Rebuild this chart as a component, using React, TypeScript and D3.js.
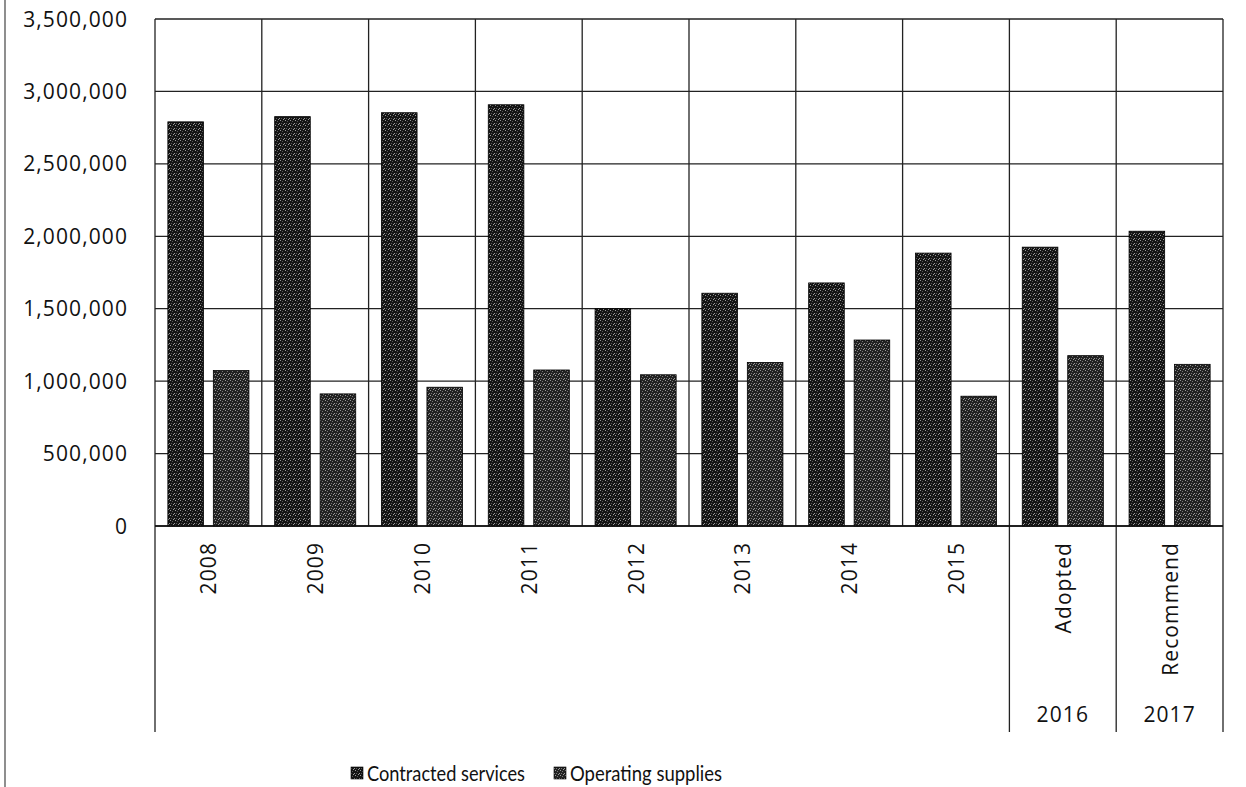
import React, { useEffect, useRef } from 'react';
import * as d3 from 'd3';

const categories = ['2008', '2009', '2010', '2011', '2012', '2013', '2014', '2015', 'Adopted', 'Recommend'];
const groupLabels = ['', '', '', '', '', '', '', '', '2016', '2017'];
const seriesNames = ['Contracted services', 'Operating supplies'];
const contracted = [2790000, 2826000, 2853000, 2908000, 1500000, 1607000, 1678000, 1884000, 1925000, 2035000];
const operating = [1073000, 912000, 958000, 1077000, 1044000, 1129000, 1284000, 896000, 1176000, 1116000];
const yTicks = [0, 500000, 1000000, 1500000, 2000000, 2500000, 3000000, 3500000];

const FONT = '"Open Sans", sans-serif';

const App: React.FC = () => {
  const svgRef = useRef<SVGSVGElement | null>(null);
  const width = 1246;
  const height = 787;

  useEffect(() => {
    document.body.style.margin = '0';
    const svgEl = svgRef.current;
    if (!svgEl) return;
    const svg = d3.select(svgEl);
    svg.selectAll('*').remove();

    const left = 155, right = 1223, top = 19, bottom = 526, labelBottom = 732;

    const x0 = d3.scaleBand<string>().domain(categories).range([left, right]).padding(0);
    const x1 = d3.scaleBand<string>().domain(seriesNames).range([0, x0.bandwidth()])
      .paddingInner(0.217).paddingOuter(0.283);
    const y = d3.scaleLinear().domain([0, 3500000]).range([bottom, top]);

    // textures
    const defs = svg.append('defs');
    const makePattern = (id: string, base: string, dots: string) => {
      const p = defs.append('pattern').attr('id', id).attr('width', 5).attr('height', 5)
        .attr('patternUnits', 'userSpaceOnUse');
      p.append('rect').attr('width', 5).attr('height', 5).attr('fill', base);
      [[0, 0], [2, 1], [4, 3], [1, 3], [3, 4]].forEach(([px, py], i) => {
        p.append('rect').attr('x', px).attr('y', py).attr('width', 1).attr('height', 1)
          .attr('fill', i % 2 ? dots : '#9a9a9a');
      });
    };
    makePattern('pat-c', '#141414', '#555');
    makePattern('pat-o', '#222', '#777');

    // outer scan border
    svg.append('line').attr('x1', 5).attr('x2', 5).attr('y1', 0).attr('y2', height)
      .attr('stroke', '#444').attr('stroke-width', 1.2);

    // horizontal gridlines
    svg.append('g').selectAll('line').data(yTicks).enter().append('line')
      .attr('x1', left).attr('x2', right)
      .attr('y1', (d) => y(d)).attr('y2', (d) => y(d))
      .attr('stroke', '#222').attr('stroke-width', 1.3);

    // vertical category gridlines
    const bounds = categories.map((c) => x0(c) as number).concat([right]);
    svg.append('g').selectAll('line').data(bounds).enter().append('line')
      .attr('x1', (d) => d).attr('x2', (d) => d)
      .attr('y1', top).attr('y2', bottom)
      .attr('stroke', '#222').attr('stroke-width', 1.3);

    // group separators below axis
    const sepIdx = [0, 8, 9, 10];
    svg.append('g').selectAll('line').data(sepIdx).enter().append('line')
      .attr('x1', (i) => bounds[i]).attr('x2', (i) => bounds[i])
      .attr('y1', bottom).attr('y2', labelBottom)
      .attr('stroke', '#222').attr('stroke-width', 1.3);

    // bars
    const series = [
      { name: seriesNames[0], values: contracted, fill: 'url(#pat-c)' },
      { name: seriesNames[1], values: operating, fill: 'url(#pat-o)' },
    ];
    series.forEach((s) => {
      svg.append('g').selectAll('rect').data(s.values).enter().append('rect')
        .attr('x', (d, i) => (x0(categories[i]) as number) + (x1(s.name) as number))
        .attr('y', (d) => y(d))
        .attr('width', x1.bandwidth())
        .attr('height', (d) => bottom - y(d))
        .attr('fill', s.fill)
        .attr('stroke', '#000').attr('stroke-width', 0.8);
    });

    // axis line at zero
    svg.append('line').attr('x1', left).attr('x2', right).attr('y1', bottom).attr('y2', bottom)
      .attr('stroke', '#111').attr('stroke-width', 1.6);

    // y tick labels
    svg.append('g').selectAll('text').data(yTicks).enter().append('text')
      .attr('x', 128).attr('y', (d) => y(d))
      .attr('dy', '0.36em')
      .attr('text-anchor', 'end')
      .attr('font-family', FONT).attr('font-size', 21).attr('letter-spacing', 1.1)
      .attr('fill', '#111')
      .text((d) => d3.format(',')(d));

    // rotated category labels
    svg.append('g').selectAll('text').data(categories).enter().append('text')
      .attr('transform', (d) => `translate(${(x0(d) as number) + x0.bandwidth() / 2 + 8}, 542) rotate(-90)`)
      .attr('text-anchor', 'end')
      .attr('font-family', FONT).attr('font-size', 21).attr('letter-spacing', 1.1)
      .attr('fill', '#111')
      .text((d) => d);

    // second-level labels
    svg.append('g').selectAll('text').data(groupLabels).enter().append('text')
      .attr('x', (d, i) => (x0(categories[i]) as number) + x0.bandwidth() / 2)
      .attr('y', 722)
      .attr('text-anchor', 'middle')
      .attr('font-family', FONT).attr('font-size', 21).attr('letter-spacing', 1.1)
      .attr('fill', '#111')
      .text((d) => d);

    // legend
    const legendItems = [
      { name: seriesNames[0], fill: 'url(#pat-c)', x: 351, w: 158 },
      { name: seriesNames[1], fill: 'url(#pat-o)', x: 554, w: 152 },
    ];
    const lg = svg.append('g');
    legendItems.forEach((l) => {
      lg.append('rect').attr('x', l.x).attr('y', 767).attr('width', 12).attr('height', 12)
        .attr('fill', l.fill).attr('stroke', '#000').attr('stroke-width', 0.6);
      lg.append('text').attr('x', l.x + 16).attr('y', 773).attr('dy', '0.36em')
        .attr('font-family', 'Lato, sans-serif').attr('font-size', 21)
        .attr('textLength', l.w).attr('lengthAdjust', 'spacingAndGlyphs')
        .attr('fill', '#111')
        .text(l.name);
    });
  }, []);

  return <svg ref={svgRef} width={width} height={height} style={{ display: 'block', background: '#fff' }}></svg>;
};

export default App;
